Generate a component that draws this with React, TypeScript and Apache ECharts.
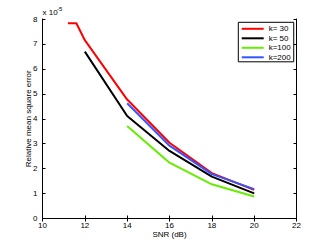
import React, { useEffect, useRef } from "react";
import * as echarts from "echarts";

const FONT = "'Liberation Sans', Arial, Helvetica, sans-serif";

const seriesNames = ["k= 30", "k= 50", "k=100", "k=200"];
const seriesColors = ["#ff0000", "#000000", "#66ee00", "#3355ff"];

const k30: [number, number][] = [
  [11.2, 7.83], [11.6, 7.83], [12, 7.15], [14, 4.77], [16, 3.04], [18, 1.82], [20, 1.15],
];
const k50: [number, number][] = [
  [12, 6.69], [14, 4.11], [16, 2.71], [18, 1.68], [20, 1.01],
];
const k100: [number, number][] = [
  [14, 3.71], [16, 2.24], [18, 1.37], [20, 0.88],
];
const k200: [number, number][] = [
  [14, 4.62], [16, 2.92], [18, 1.78], [20, 1.18],
];
const allData = [k30, k50, k100, k200];

const xMin = 10, xMax = 22, xStep = 2;
const yMin = 0, yMax = 8, yStep = 1;

export default function App() {
  const ref = useRef<HTMLDivElement>(null);
  useEffect(() => {
    if (!ref.current) return;
    const chart = echarts.init(ref.current, undefined, { renderer: "svg" });
    const axisLine = { show: true, lineStyle: { color: "#000", width: 1 } };
    const tick = { show: true, inside: true, length: 3, lineStyle: { color: "#000" } };
    const label = { fontFamily: FONT, fontSize: 8, color: "#000" };
    chart.setOption({
      animation: false,
      backgroundColor: "#fff",
      grid: { left: 42.5, right: 30.5, top: 19, bottom: 27.5, containLabel: false },
      xAxis: [
        {
          type: "value", min: xMin, max: xMax, interval: xStep, position: "bottom",
          axisLine, axisTick: tick, splitLine: { show: false },
          axisLabel: { ...label, margin: 3 },
          name: "SNR (dB)", nameLocation: "middle", nameGap: 11.5, nameMoveOverlap: false,
          nameTextStyle: { fontFamily: FONT, fontSize: 8, color: "#000" },
        },
        {
          type: "value", min: xMin, max: xMax, interval: xStep, position: "top",
          axisLine, axisTick: tick, splitLine: { show: false }, axisLabel: { show: false },
        },
      ],
      yAxis: [
        {
          type: "value", min: yMin, max: yMax, interval: yStep, position: "left",
          axisLine, axisTick: tick, splitLine: { show: false },
          axisLabel: { ...label, margin: 5 },
          name: "Relative mean square error", nameLocation: "middle", nameGap: 10, nameMoveOverlap: false,
          nameTextStyle: { fontFamily: FONT, fontSize: 8, color: "#000" },
        },
        {
          type: "value", min: yMin, max: yMax, interval: yStep, position: "right",
          axisLine, axisTick: tick, splitLine: { show: false }, axisLabel: { show: false },
        },
      ],
      legend: {
        orient: "vertical", left: 238.3, top: 22.3,
        data: seriesNames, icon: "rect", itemWidth: 22, itemHeight: 2, itemGap: 0.5,
        padding: [2, 3, 0, 3.4],
        backgroundColor: "#fff", borderColor: "#000", borderWidth: 1, borderRadius: 0,
        textStyle: { fontFamily: FONT, fontSize: 8, color: "#000", lineHeight: 9 },
      },
      graphic: [
        {
          type: "text", x: 42.5, y: 12,
          style: { text: "x 10", fontFamily: FONT, fontSize: 8, fill: "#000", verticalAlign: "middle", align: "left" },
        },
        {
          type: "text", x: 57, y: 8.5,
          style: { text: "-5", fontFamily: FONT, fontSize: 6, fill: "#000", verticalAlign: "middle", align: "left" },
        },
      ],
      series: allData.map((d, i) => ({
        name: seriesNames[i], type: "line", data: d, showSymbol: false, symbol: "none",
        clip: true, lineStyle: { color: seriesColors[i], width: 2 }, itemStyle: { color: seriesColors[i] },
      })),
    });
    return () => chart.dispose();
  }, []);
  return <div ref={ref} style={{ width: 327, height: 246, position: "absolute", left: 0, top: 0 }} />;
}
